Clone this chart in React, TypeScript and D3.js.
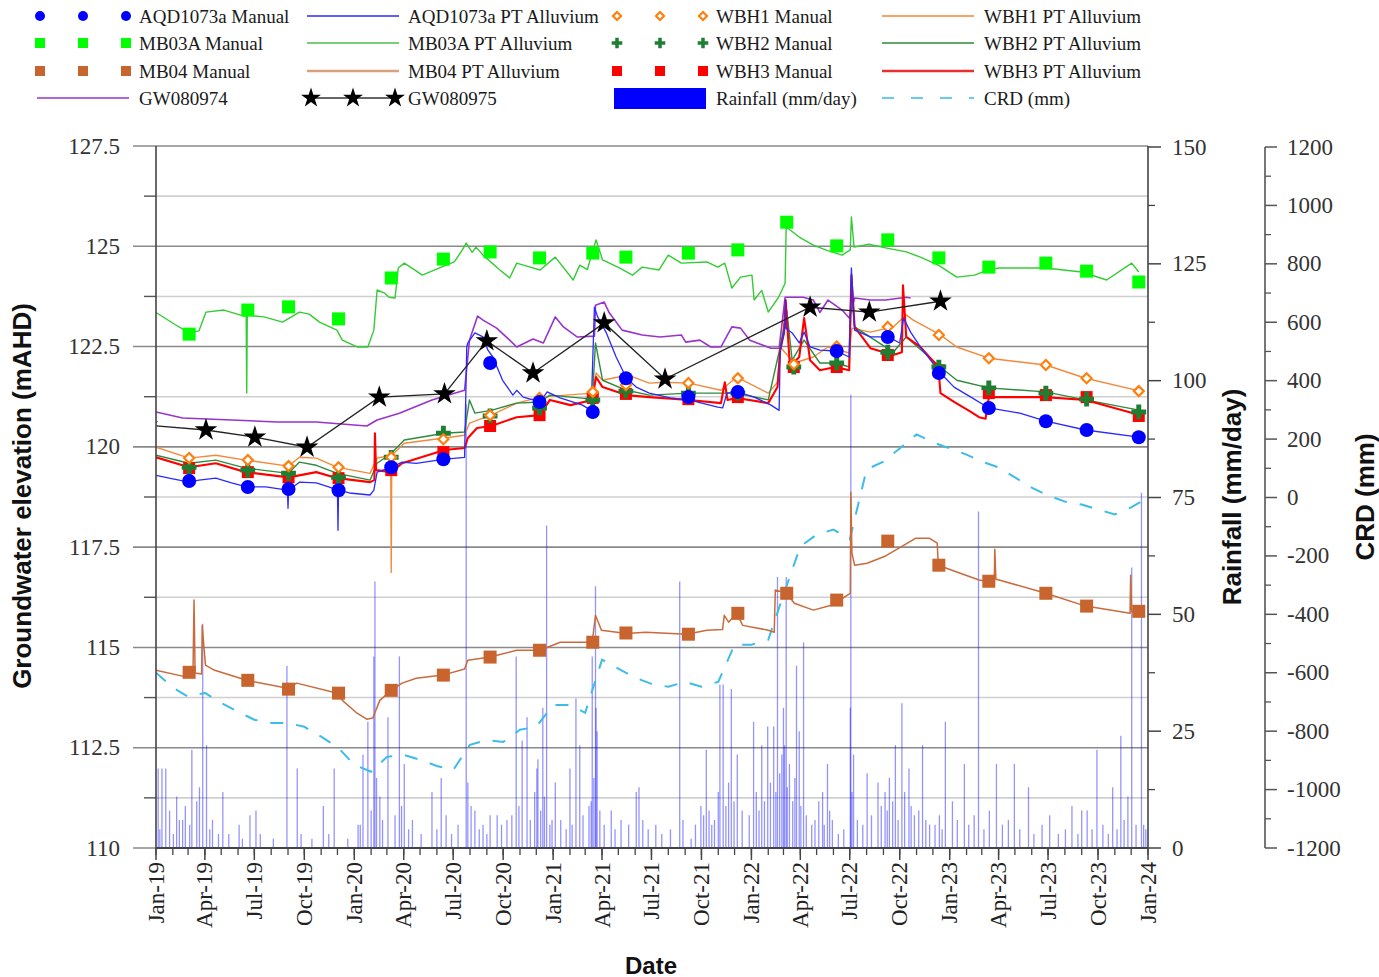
import React from "react";
import * as d3 from "d3";

type Row = [string, number];

// manual dips (mAHD)
const aqdManual: Row[] = [
  ["2019-03-03", 119.15], ["2019-06-19", 119.0], ["2019-09-02", 118.95], ["2019-12-03", 118.92],
  ["2020-03-09", 119.49], ["2020-06-13", 119.69], ["2020-09-07", 122.09], ["2020-12-07", 121.12],
  ["2021-03-15", 120.87], ["2021-05-15", 121.71], ["2021-09-07", 121.24], ["2021-12-07", 121.37],
  ["2022-06-07", 122.39], ["2022-09-09", 122.74], ["2022-12-12", 121.84], ["2023-03-14", 120.97],
  ["2023-06-27", 120.64], ["2023-09-10", 120.42], ["2023-12-15", 120.24],
];
const mb03aManual: Row[] = [
  ["2019-03-03", 122.81], ["2019-06-19", 123.41], ["2019-09-02", 123.49], ["2019-12-03", 123.19],
  ["2020-03-09", 124.21], ["2020-06-13", 124.68], ["2020-09-07", 124.86], ["2020-12-07", 124.71],
  ["2021-03-15", 124.83], ["2021-05-15", 124.73], ["2021-09-07", 124.83], ["2021-12-07", 124.91],
  ["2022-03-07", 125.6], ["2022-06-07", 125.01], ["2022-09-09", 125.16], ["2022-12-12", 124.71],
  ["2023-03-14", 124.48], ["2023-06-27", 124.58], ["2023-09-10", 124.38], ["2023-12-15", 124.11],
];
const mb04Manual: Row[] = [
  ["2019-03-03", 114.38], ["2019-06-19", 114.18], ["2019-09-02", 113.96], ["2019-12-03", 113.86],
  ["2020-03-09", 113.93], ["2020-06-13", 114.31], ["2020-09-07", 114.76], ["2020-12-07", 114.93],
  ["2021-03-15", 115.13], ["2021-05-15", 115.36], ["2021-09-07", 115.33], ["2021-12-07", 115.85],
  ["2022-03-07", 116.35], ["2022-06-07", 116.18], ["2022-09-09", 117.65], ["2022-12-12", 117.05],
  ["2023-03-14", 116.65], ["2023-06-27", 116.35], ["2023-09-10", 116.03], ["2023-12-15", 115.9],
];
const wbh1Manual: Row[] = [
  ["2019-03-03", 119.72], ["2019-06-19", 119.67], ["2019-09-02", 119.52], ["2019-12-03", 119.49],
  ["2020-03-09", 119.74], ["2020-06-13", 120.19], ["2020-09-07", 120.79], ["2020-12-07", 121.22],
  ["2021-03-15", 121.37], ["2021-05-15", 121.54], ["2021-09-07", 121.59], ["2021-12-07", 121.71],
  ["2022-03-20", 122.06], ["2022-06-07", 122.5], ["2022-09-09", 122.99], ["2022-12-12", 122.79],
  ["2023-03-14", 122.21], ["2023-06-27", 122.04], ["2023-09-10", 121.71], ["2023-12-15", 121.39],
];
const wbh2Manual: Row[] = [
  ["2019-03-03", 119.49], ["2019-06-19", 119.42], ["2019-09-02", 119.34], ["2019-12-03", 119.24],
  ["2020-03-09", 119.74], ["2020-06-13", 120.34], ["2020-09-07", 120.77], ["2020-12-07", 120.97],
  ["2021-03-15", 121.17], ["2021-05-15", 121.39], ["2021-09-07", 121.34], ["2021-12-07", 121.34],
  ["2022-03-20", 121.99], ["2022-06-07", 122.09], ["2022-09-09", 122.36], ["2022-12-12", 121.99],
  ["2023-03-14", 121.47], ["2023-06-27", 121.34], ["2023-09-10", 121.19], ["2023-12-15", 120.87],
];
const wbh3Manual: Row[] = [
  ["2019-03-03", 119.47], ["2019-06-19", 119.37], ["2019-09-02", 119.24], ["2019-12-03", 119.22],
  ["2020-03-09", 119.42], ["2020-06-13", 119.87], ["2020-09-07", 120.52], ["2020-12-07", 120.79],
  ["2021-03-15", 121.22], ["2021-05-15", 121.32], ["2021-09-07", 121.19], ["2021-12-07", 121.24],
  ["2022-03-20", 121.99], ["2022-06-07", 121.99], ["2022-09-09", 122.29], ["2022-12-12", 121.91],
  ["2023-03-14", 121.34], ["2023-06-27", 121.29], ["2023-09-10", 121.24], ["2023-12-15", 120.77],
];

// pressure transducer logs
const aqdPT: Row[] = [
  ["2019-01-01", 119.29], ["2019-02-01", 119.2], ["2019-03-03", 119.12], ["2019-03-21", 119.17], ["2019-04-21", 119.22],
  ["2019-05-20", 119.1], ["2019-06-17", 119.0], ["2019-07-22", 119.0], ["2019-08-31", 118.92], ["2019-09-01", 118.47],
  ["2019-09-02", 118.92], ["2019-09-22", 119.12], ["2019-10-23", 119.1], ["2019-11-15", 119.0], ["2019-12-01", 118.92],
  ["2019-12-02", 117.92], ["2019-12-03", 118.92], ["2019-12-23", 118.85], ["2020-01-30", 118.8],
  ["2020-02-06", 118.92], ["2020-02-12", 119.37], ["2020-03-09", 119.49], ["2020-03-29", 119.62],
  ["2020-04-24", 119.59], ["2020-06-12", 119.69], ["2020-07-22", 119.74], ["2020-07-26", 122.49],
  ["2020-07-28", 122.59], ["2020-08-10", 122.84], ["2020-08-25", 122.74], ["2020-09-03", 122.41],
  ["2020-09-12", 122.24], ["2020-09-30", 121.66], ["2020-10-19", 121.29], ["2020-10-26", 121.41],
  ["2020-11-07", 121.24], ["2020-12-08", 121.12], ["2020-12-21", 121.37], ["2021-01-14", 121.22],
  ["2021-02-24", 121.04], ["2021-03-12", 120.91], ["2021-03-18", 123.48], ["2021-03-24", 123.24],
  ["2021-04-09", 122.84], ["2021-04-27", 122.24], ["2021-05-16", 121.71], ["2021-06-03", 121.49],
  ["2021-06-27", 121.34], ["2021-08-05", 121.22], ["2021-09-08", 121.17], ["2021-10-31", 120.99],
  ["2021-11-09", 120.97], ["2021-11-17", 121.34], ["2021-12-05", 121.37], ["2022-01-06", 121.24],
  ["2022-02-06", 121.04], ["2022-02-21", 120.91], ["2022-02-23", 122.41], ["2022-03-04", 122.99],
  ["2022-03-05", 123.66], ["2022-03-06", 122.95], ["2022-03-17", 122.84], ["2022-03-30", 122.59],
  ["2022-04-08", 122.86], ["2022-04-19", 122.49], ["2022-05-07", 122.41], ["2022-06-06", 122.39],
  ["2022-06-30", 122.24], ["2022-07-04", 124.46], ["2022-07-10", 122.91], ["2022-08-08", 122.74],
  ["2022-09-10", 122.74], ["2022-10-01", 122.59], ["2022-10-08", 123.21], ["2022-10-21", 122.86],
  ["2022-11-08", 122.49], ["2022-12-15", 121.84], ["2023-01-09", 121.49], ["2023-02-09", 121.24],
  ["2023-03-14", 120.97], ["2023-05-10", 120.84], ["2023-06-27", 120.64], ["2023-09-08", 120.42],
  ["2023-12-15", 120.24],
];
const mb03aPT: Row[] = [
  ["2019-01-01", 123.35], ["2019-02-05", 123.05], ["2019-03-03", 122.84], ["2019-03-21", 122.89],
  ["2019-04-03", 123.36], ["2019-05-06", 123.41], ["2019-06-12", 123.26], ["2019-06-16", 123.28],
  ["2019-06-17", 121.34], ["2019-06-18", 123.28], ["2019-07-19", 123.24], ["2019-08-22", 123.11],
  ["2019-09-22", 123.36], ["2019-10-10", 123.31], ["2019-10-29", 123.11], ["2019-11-30", 122.91],
  ["2019-12-10", 122.66], ["2020-01-06", 122.49], ["2020-01-26", 122.49], ["2020-02-06", 122.91],
  ["2020-02-12", 123.91], ["2020-02-26", 123.83], ["2020-03-05", 123.73], ["2020-03-16", 123.71],
  ["2020-03-22", 124.46], ["2020-04-02", 124.58], ["2020-04-21", 124.41], ["2020-05-05", 124.28],
  ["2020-06-06", 124.46], ["2020-07-03", 124.61], ["2020-07-18", 124.91], ["2020-07-25", 125.08],
  ["2020-08-05", 124.85], ["2020-08-12", 124.98], ["2020-08-25", 124.78], ["2020-09-25", 124.41],
  ["2020-10-13", 124.21], ["2020-10-26", 124.58], ["2020-11-15", 124.5], ["2020-12-08", 124.41],
  ["2021-01-05", 124.73], ["2021-02-07", 124.16], ["2021-02-19", 124.53], ["2021-03-05", 124.42],
  ["2021-03-21", 125.16], ["2021-04-02", 124.66], ["2021-05-03", 124.46], ["2021-05-27", 124.28],
  ["2021-06-14", 124.48], ["2021-07-15", 124.41], ["2021-08-01", 124.78], ["2021-08-25", 124.58],
  ["2021-10-11", 124.61], ["2021-10-31", 124.48], ["2021-11-13", 124.58], ["2021-11-26", 123.96],
  ["2021-12-12", 124.23], ["2022-01-02", 124.28], ["2022-01-06", 123.66], ["2022-01-20", 123.9],
  ["2022-02-01", 123.36], ["2022-02-20", 123.73], ["2022-03-04", 124.08], ["2022-03-06", 125.48],
  ["2022-03-30", 125.23], ["2022-04-25", 125.03], ["2022-05-20", 124.9], ["2022-06-17", 124.78],
  ["2022-07-02", 124.91], ["2022-07-04", 125.73], ["2022-07-09", 124.98], ["2022-08-05", 125.05],
  ["2022-09-05", 124.96], ["2022-10-13", 124.86], ["2022-11-08", 124.73], ["2022-12-11", 124.53],
  ["2023-01-14", 124.23], ["2023-02-16", 124.28], ["2023-03-12", 124.41], ["2023-04-02", 124.46],
  ["2023-06-26", 124.46], ["2023-09-01", 124.36], ["2023-10-17", 124.16], ["2023-12-02", 124.58],
  ["2023-12-15", 124.36],
];
const mb04PT: Row[] = [
  ["2019-01-01", 114.43], ["2019-02-27", 114.26], ["2019-03-10", 114.28], ["2019-03-12", 116.18],
  ["2019-03-14", 114.36], ["2019-03-26", 114.34], ["2019-03-27", 115.55], ["2019-04-02", 114.56],
  ["2019-04-19", 114.43], ["2019-06-17", 114.18], ["2019-08-31", 113.98], ["2019-09-17", 114.11],
  ["2019-12-01", 113.86], ["2019-12-10", 113.68], ["2020-01-06", 113.36], ["2020-01-24", 113.21],
  ["2020-02-04", 113.24], ["2020-02-17", 113.68], ["2020-03-09", 113.93], ["2020-03-29", 114.11],
  ["2020-04-24", 114.23], ["2020-06-12", 114.31], ["2020-07-22", 114.46], ["2020-07-28", 114.68],
  ["2020-09-07", 114.76], ["2020-10-26", 114.93], ["2020-12-08", 114.93], ["2021-01-14", 115.13],
  ["2021-03-14", 115.13], ["2021-03-20", 115.8], ["2021-03-31", 115.43], ["2021-05-16", 115.35],
  ["2021-06-20", 115.38], ["2021-09-04", 115.33], ["2021-10-11", 115.43], ["2021-11-09", 115.45],
  ["2021-11-12", 115.8], ["2021-11-20", 115.63], ["2021-12-05", 115.85], ["2021-12-16", 115.55],
  ["2022-02-01", 115.43], ["2022-02-12", 115.38], ["2022-02-14", 116.43], ["2022-03-07", 116.35],
  ["2022-03-21", 116.1], ["2022-04-25", 115.93], ["2022-05-28", 116.05], ["2022-07-02", 116.35],
  ["2022-07-03", 118.87], ["2022-07-05", 117.35], ["2022-07-10", 117.05], ["2022-08-02", 117.1],
  ["2022-09-05", 117.28], ["2022-10-05", 117.52], ["2022-10-30", 117.72], ["2022-11-25", 117.72],
  ["2022-12-09", 117.6], ["2022-12-11", 117.05], ["2023-01-14", 116.88], ["2023-02-24", 116.68],
  ["2023-03-24", 116.62], ["2023-03-25", 117.45], ["2023-03-27", 116.7], ["2023-04-02", 116.68],
  ["2023-06-27", 116.35], ["2023-09-08", 116.03], ["2023-11-29", 115.85], ["2023-11-30", 116.8],
  ["2023-12-02", 115.9], ["2023-12-09", 115.85], ["2023-12-15", 115.9],
];
const wbh1PT: Row[] = [
  ["2019-01-01", 119.99], ["2019-03-03", 119.72], ["2019-04-21", 119.79], ["2019-06-15", 119.67],
  ["2019-09-02", 119.52], ["2019-09-22", 119.74], ["2019-10-23", 119.72], ["2019-12-01", 119.49],
  ["2020-01-30", 119.34], ["2020-02-12", 119.72], ["2020-03-08", 119.79], ["2020-03-09", 116.87],
  ["2020-03-10", 119.79], ["2020-04-02", 120.09], ["2020-06-15", 120.22], ["2020-07-22", 120.29],
  ["2020-07-31", 120.59], ["2020-09-09", 120.79], ["2020-10-26", 121.09], ["2020-12-08", 121.24],
  ["2021-03-14", 121.34], ["2021-03-21", 121.84], ["2021-04-02", 121.66], ["2021-05-19", 121.79],
  ["2021-06-27", 121.59], ["2021-07-26", 121.61], ["2021-09-08", 121.59], ["2021-11-06", 121.41],
  ["2021-12-05", 121.74], ["2022-02-01", 121.34], ["2022-02-18", 121.61], ["2022-02-23", 122.49],
  ["2022-03-21", 122.09], ["2022-04-25", 122.24], ["2022-05-22", 122.49], ["2022-06-30", 122.34],
  ["2022-07-05", 122.96], ["2022-08-08", 122.86], ["2022-09-19", 122.99], ["2022-10-13", 123.29],
  ["2022-10-26", 123.16], ["2022-12-15", 122.79], ["2023-01-14", 122.49], ["2023-03-14", 122.21],
  ["2023-06-27", 122.04], ["2023-09-08", 121.71], ["2023-12-18", 121.39],
];
const wbh2PT: Row[] = [
  ["2019-01-01", 119.79], ["2019-03-03", 119.59], ["2019-04-21", 119.67], ["2019-06-15", 119.47],
  ["2019-09-02", 119.34], ["2019-09-22", 119.62], ["2019-10-23", 119.54], ["2019-12-01", 119.34],
  ["2020-01-30", 119.17], ["2020-02-12", 119.59], ["2020-03-09", 119.84], ["2020-04-02", 120.17],
  ["2020-06-15", 120.34], ["2020-07-22", 120.37], ["2020-07-31", 121.17], ["2020-08-10", 120.84],
  ["2020-09-09", 120.91], ["2020-10-26", 121.09], ["2020-12-08", 121.12], ["2020-12-26", 121.29],
  ["2021-03-14", 121.19], ["2021-03-20", 122.59], ["2021-04-02", 121.66], ["2021-05-16", 121.41],
  ["2021-06-27", 121.29], ["2021-09-08", 121.34], ["2021-12-05", 121.34], ["2022-02-01", 121.17],
  ["2022-02-23", 122.49], ["2022-03-07", 123.41], ["2022-03-17", 122.16], ["2022-04-08", 122.66],
  ["2022-05-07", 122.09], ["2022-06-06", 122.09], ["2022-06-30", 121.99], ["2022-07-04", 123.91],
  ["2022-07-10", 122.99], ["2022-09-19", 122.36], ["2022-10-13", 122.74], ["2022-12-15", 121.99],
  ["2023-01-14", 121.66], ["2023-03-14", 121.47], ["2023-06-26", 121.37], ["2023-09-08", 121.17],
  ["2023-12-18", 120.91],
];
const wbh3PT: Row[] = [
  ["2019-01-01", 119.74], ["2019-03-03", 119.49], ["2019-04-21", 119.59], ["2019-06-15", 119.37],
  ["2019-09-02", 119.24], ["2019-10-23", 119.37], ["2019-12-01", 119.22], ["2020-01-30", 119.12],
  ["2020-02-07", 119.17], ["2020-02-08", 120.34], ["2020-02-10", 119.42], ["2020-03-09", 119.37],
  ["2020-03-29", 119.59], ["2020-06-15", 119.92], ["2020-07-22", 119.97], ["2020-07-28", 120.22],
  ["2020-08-14", 120.47], ["2020-09-09", 120.52], ["2020-10-26", 120.74], ["2020-12-08", 120.79],
  ["2020-12-26", 121.17], ["2021-02-02", 121.04], ["2021-03-14", 121.17], ["2021-03-21", 121.74],
  ["2021-04-02", 121.49], ["2021-05-16", 121.29], ["2021-06-27", 121.24], ["2021-09-08", 121.17],
  ["2021-11-06", 121.09], ["2021-11-13", 121.61], ["2021-11-18", 121.17], ["2021-12-05", 121.22],
  ["2022-02-01", 121.09], ["2022-02-18", 121.49], ["2022-02-23", 122.41], ["2022-03-02", 122.84],
  ["2022-03-05", 123.66], ["2022-03-13", 121.99], ["2022-03-30", 122.24], ["2022-04-08", 123.21],
  ["2022-04-19", 122.16], ["2022-05-07", 121.91], ["2022-06-05", 121.99], ["2022-06-30", 121.91],
  ["2022-07-04", 124.28], ["2022-07-10", 122.99], ["2022-08-08", 122.46], ["2022-09-19", 122.29],
  ["2022-10-05", 122.36], ["2022-10-07", 124.03], ["2022-10-13", 122.74], ["2022-11-08", 122.49],
  ["2022-12-11", 121.99], ["2022-12-15", 121.34], ["2023-01-09", 121.12], ["2023-02-09", 120.87],
  ["2023-02-24", 120.74], ["2023-03-08", 120.7], ["2023-03-14", 121.24], ["2023-06-26", 121.24],
  ["2023-09-08", 121.17], ["2023-12-18", 120.79],
];
const gw080974: Row[] = [
  ["2019-01-01", 120.87], ["2019-02-19", 120.72], ["2019-05-20", 120.67], ["2019-08-12", 120.62],
  ["2019-10-23", 120.62], ["2020-01-24", 120.52], ["2020-02-12", 120.67], ["2020-03-24", 120.84],
  ["2020-05-23", 121.17], ["2020-07-22", 121.41], ["2020-07-31", 122.66], ["2020-08-15", 123.26],
  ["2020-08-25", 123.16], ["2020-09-19", 122.96], ["2020-10-13", 122.66], ["2020-10-26", 122.49],
  ["2020-11-25", 122.69], ["2020-12-14", 122.59], ["2021-01-05", 123.24], ["2021-01-20", 122.99],
  ["2021-02-14", 122.74], ["2021-03-18", 122.76], ["2021-03-20", 123.53], ["2021-04-05", 123.61],
  ["2021-04-14", 123.35], ["2021-05-08", 122.91], ["2021-06-14", 122.79], ["2021-07-17", 122.74],
  ["2021-08-25", 122.79], ["2021-09-02", 122.61], ["2021-09-28", 122.66], ["2021-10-18", 122.49],
  ["2021-11-06", 122.49], ["2021-11-26", 122.99], ["2021-12-12", 122.96], ["2021-12-29", 122.66],
  ["2022-02-06", 122.46], ["2022-02-21", 122.46], ["2022-03-04", 123.73], ["2022-04-06", 123.73],
  ["2022-04-25", 123.66], ["2022-05-07", 123.35], ["2022-05-22", 123.66], ["2022-06-17", 123.41],
  ["2022-06-30", 123.21], ["2022-07-10", 123.71], ["2022-08-08", 123.66], ["2022-09-05", 123.66],
  ["2022-10-13", 123.73], ["2022-10-21", 123.71],
];
const gw080975: Row[] = [
  ["2018-12-15", 120.54], ["2019-04-03", 120.42], ["2019-07-02", 120.24], ["2019-10-06", 119.99],
  ["2020-02-16", 121.24], ["2020-06-15", 121.32], ["2020-09-01", 122.64], ["2020-11-25", 121.84],
  ["2021-04-05", 123.09], ["2021-07-26", 121.69], ["2022-04-19", 123.48], ["2022-08-06", 123.36],
  ["2022-12-15", 123.63],
];

// daily rainfall (mm/day), rain days only
const rainfall: Row[] = [
  ["2019-01-05", 17], ["2019-01-08", 4], ["2019-01-12", 17], ["2019-01-19", 17], ["2019-01-26", 8],
  ["2019-02-02", 3], ["2019-02-08", 11], ["2019-02-13", 6], ["2019-02-19", 6], ["2019-02-24", 9],
  ["2019-03-04", 5], ["2019-03-08", 21], ["2019-03-17", 10], ["2019-03-22", 13], ["2019-03-28", 48],
  ["2019-04-04", 22], ["2019-04-10", 4], ["2019-04-15", 6], ["2019-04-26", 3], ["2019-05-04", 12],
  ["2019-05-15", 3], ["2019-06-03", 5], ["2019-06-09", 2], ["2019-06-23", 7], ["2019-07-04", 8],
  ["2019-07-12", 3], ["2019-08-05", 2], ["2019-08-30", 39], ["2019-09-18", 17], ["2019-09-25", 3],
  ["2019-10-15", 2], ["2019-11-05", 9], ["2019-11-15", 3], ["2019-11-25", 17], ["2019-12-20", 2],
  ["2020-01-08", 5], ["2020-01-12", 5], ["2020-01-17", 20], ["2020-01-26", 27], ["2020-02-01", 8],
  ["2020-02-06", 41], ["2020-02-08", 57], ["2020-02-11", 15], ["2020-02-17", 11], ["2020-02-22", 6],
  ["2020-03-03", 28], ["2020-03-16", 7], ["2020-03-24", 41], ["2020-03-28", 9], ["2020-04-02", 18],
  ["2020-04-10", 4], ["2020-04-17", 6], ["2020-05-03", 3], ["2020-05-23", 12], ["2020-06-01", 4],
  ["2020-06-09", 15], ["2020-06-18", 7], ["2020-06-28", 3], ["2020-07-10", 5], ["2020-07-25", 95],
  ["2020-07-28", 14], ["2020-08-03", 9], ["2020-08-10", 8], ["2020-08-18", 4], ["2020-08-25", 5],
  ["2020-09-01", 3], ["2020-09-07", 7], ["2020-09-20", 7], ["2020-09-28", 5], ["2020-10-08", 6],
  ["2020-10-17", 7], ["2020-10-25", 41], ["2020-10-30", 9], ["2020-11-05", 23], ["2020-11-14", 28],
  ["2020-11-20", 6], ["2020-11-28", 12], ["2020-12-02", 17], ["2020-12-04", 19], ["2020-12-09", 8],
  ["2020-12-13", 30], ["2020-12-16", 11], ["2020-12-20", 69], ["2020-12-26", 5], ["2020-12-30", 6],
  ["2021-01-05", 14], ["2021-01-15", 6], ["2021-01-25", 4], ["2021-02-01", 17], ["2021-02-05", 5],
  ["2021-02-12", 32], ["2021-02-19", 22], ["2021-02-25", 7], ["2021-03-08", 9], ["2021-03-12", 10],
  ["2021-03-14", 41], ["2021-03-17", 15], ["2021-03-20", 56], ["2021-03-21", 30], ["2021-03-23", 25],
  ["2021-03-28", 8], ["2021-04-05", 5], ["2021-04-18", 8], ["2021-04-25", 4], ["2021-05-06", 6],
  ["2021-05-20", 5], ["2021-06-03", 12], ["2021-06-08", 13], ["2021-06-15", 6], ["2021-06-25", 4],
  ["2021-07-09", 5], ["2021-07-20", 3], ["2021-08-05", 4], ["2021-08-22", 57], ["2021-08-28", 6],
  ["2021-09-12", 2], ["2021-09-20", 5], ["2021-09-30", 9], ["2021-10-05", 7], ["2021-10-10", 21],
  ["2021-10-15", 8], ["2021-10-20", 5], ["2021-10-25", 6], ["2021-11-01", 12], ["2021-11-04", 35],
  ["2021-11-10", 35], ["2021-11-15", 9], ["2021-11-20", 14], ["2021-11-25", 34], ["2021-11-30", 10],
  ["2021-12-06", 20], ["2021-12-15", 8], ["2021-12-28", 7], ["2022-01-05", 27], ["2022-01-10", 12],
  ["2022-01-15", 8], ["2022-01-20", 22], ["2022-01-25", 10], ["2022-01-31", 26], ["2022-02-05", 14],
  ["2022-02-11", 26], ["2022-02-15", 12], ["2022-02-18", 58], ["2022-02-22", 16], ["2022-02-26", 20],
  ["2022-03-01", 30], ["2022-03-03", 22], ["2022-03-06", 58], ["2022-03-08", 13], ["2022-03-12", 18],
  ["2022-03-18", 10], ["2022-03-22", 15], ["2022-03-25", 39], ["2022-03-30", 25], ["2022-04-02", 9],
  ["2022-04-07", 44], ["2022-04-12", 7], ["2022-04-22", 5], ["2022-04-28", 6], ["2022-05-05", 10],
  ["2022-05-12", 12], ["2022-05-15", 5], ["2022-05-21", 18], ["2022-05-25", 8], ["2022-05-30", 6],
  ["2022-06-10", 3], ["2022-06-20", 4], ["2022-07-02", 30], ["2022-07-03", 97], ["2022-07-05", 12],
  ["2022-07-08", 20], ["2022-07-15", 6], ["2022-07-25", 5], ["2022-08-02", 16], ["2022-08-10", 7],
  ["2022-08-22", 14], ["2022-08-28", 9], ["2022-09-04", 12], ["2022-09-08", 8], ["2022-09-12", 15],
  ["2022-09-18", 10], ["2022-09-23", 22], ["2022-09-28", 6], ["2022-10-05", 31], ["2022-10-10", 12],
  ["2022-10-18", 17], ["2022-10-22", 9], ["2022-10-28", 7], ["2022-11-05", 8], ["2022-11-12", 22],
  ["2022-11-18", 6], ["2022-11-25", 5], ["2022-12-05", 5], ["2022-12-13", 7], ["2022-12-18", 4],
  ["2022-12-24", 27], ["2023-01-06", 10], ["2023-01-15", 6], ["2023-01-28", 18], ["2023-02-05", 5],
  ["2023-02-15", 7], ["2023-02-23", 72], ["2023-03-05", 4], ["2023-03-15", 8], ["2023-03-28", 18],
  ["2023-04-08", 5], ["2023-04-19", 6], ["2023-04-30", 18], ["2023-05-10", 4], ["2023-05-26", 13],
  ["2023-06-05", 3], ["2023-06-20", 5], ["2023-07-04", 7], ["2023-07-20", 3], ["2023-08-02", 4],
  ["2023-08-14", 9], ["2023-08-25", 3], ["2023-09-01", 8], ["2023-09-11", 8], ["2023-09-20", 4],
  ["2023-09-29", 21], ["2023-10-10", 5], ["2023-10-20", 3], ["2023-10-28", 13], ["2023-11-05", 4],
  ["2023-11-12", 24], ["2023-11-18", 6], ["2023-11-25", 11], ["2023-12-02", 60], ["2023-12-10", 5],
  ["2023-12-20", 76], ["2023-12-24", 5], ["2023-12-28", 4],
];

// cumulative rainfall departure, one value per month from Jan-19 to Jan-24
const crdStart = "2019-01-01";
const crdMonthly = [
  -600, -651, -682, -669, -703, -734, -761, -772, -772, -785, -819, -854,
  -915, -939, -888, -881, -898, -919, -933, -847, -830, -837, -795, -785,
  -710, -710, -737, -555, -586, -617, -638, -648, -631, -648, -631, -504,
  -504, -487, -333, -168, -127, -110, -144, 96, 123, 168, 216, 189,
  168, 147, 123, 103, 69, 34, 7, -14, -24, -41, -58, -34, 0,
];

const gwTicks = [110, 112.5, 115, 117.5, 120, 122.5, 125, 127.5];
const rainTicks = [0, 25, 50, 75, 100, 125, 150];
const crdTicks = [-1200, -1000, -800, -600, -400, -200, 0, 200, 400, 600, 800, 1000, 1200];

const W = 1379;
const H = 977;
const L = 156;
const R = 1148;
const T = 146;
const B = 848;
const CRD_X = 1265;

const parse = d3.timeParse("%Y-%m-%d");
const dt = (s: string) => parse(s) as Date;
const x = d3.scaleTime().domain([dt("2019-01-01"), dt("2024-01-01")]).range([L, R]);
const y = d3.scaleLinear().domain([110, 127.5]).range([B, T]);
const yRain = d3.scaleLinear().domain([0, 150]).range([B, T + 1]);
const yCrd = d3.scaleLinear().domain([-1200, 1200]).range([B, T + 1]);

const gwLine = d3.line<Row>().x((d) => x(dt(d[0]))).y((d) => y(d[1]));

const SERIF = "'Liberation Serif', 'Times New Roman', serif";
const SANS = "'Liberation Sans', Arial, sans-serif";

const C = {
  aqd: "#0000ff",
  aqdLine: "#2a2aff",
  mb03a: "#00ff00",
  mb03aLine: "#33cc33",
  mb04: "#c8642d",
  mb04Line: "#c96b3c",
  wbh1: "#ff7f0e",
  wbh1Line: "#f28a3c",
  wbh2: "#1e7f32",
  wbh2Line: "#2e8b3e",
  wbh3: "#ff0000",
  purple: "#9933cc",
  crd: "#3cbce8",
};

const star = (s: number) => d3.symbol(d3.symbolStar, s)() as string;
const cross = (s: number) => d3.symbol(d3.symbolCross, s)() as string;

type MarkerKind = "circle" | "square" | "diamond" | "plus" | "star";

function Marker({ kind, cx, cy, color, size }: { kind: MarkerKind; cx: number; cy: number; color: string; size: number }) {
  if (kind === "circle") return <circle cx={cx} cy={cy} r={size / 2} fill={color} />;
  if (kind === "square")
    return <rect x={cx - size / 2} y={cy - size / 2} width={size} height={size} fill={color} />;
  if (kind === "diamond") {
    const h = size / 2;
    return (
      <path
        d={`M${cx},${cy - h}L${cx + h},${cy}L${cx},${cy + h}L${cx - h},${cy}Z`}
        fill="#fff"
        stroke={color}
        strokeWidth={2.2}
      />
    );
  }
  if (kind === "plus") return <path d={cross(size * size * 0.62)} transform={`translate(${cx},${cy})`} fill={color} />;
  return <path d={star(size * size * 0.55)} transform={`translate(${cx},${cy})`} fill="#000" />;
}

const lineSeries = [
  { data: mb04PT, color: C.mb04Line, w: 1.5 },
  { data: mb03aPT, color: C.mb03aLine, w: 1.4 },
  { data: gw080974, color: C.purple, w: 1.6 },
  { data: wbh1PT, color: C.wbh1Line, w: 1.4 },
  { data: wbh2PT, color: C.wbh2Line, w: 1.4 },
  { data: wbh3PT, color: C.wbh3, w: 2.1 },
  { data: aqdPT, color: C.aqdLine, w: 1.3 },
];

const markerSeries: { data: Row[]; kind: MarkerKind; color: string; size: number }[] = [
  { data: mb04Manual, kind: "square", color: C.mb04, size: 13 },
  { data: mb03aManual, kind: "square", color: C.mb03a, size: 13 },
  { data: wbh3Manual, kind: "square", color: C.wbh3, size: 12 },
  { data: wbh2Manual, kind: "plus", color: C.wbh2, size: 14 },
  { data: wbh1Manual, kind: "diamond", color: C.wbh1, size: 10 },
  { data: aqdManual, kind: "circle", color: C.aqd, size: 14 },
];

function Legend() {
  const rows = [16, 43, 71, 98];
  const lineAt = (x0: number, yy: number, color: string, w = 1.6, dash?: string) => (
    <line x1={x0} x2={x0 + 92} y1={yy} y2={yy} stroke={color} strokeWidth={w} strokeDasharray={dash} />
  );
  const three = (x0: number, yy: number, kind: MarkerKind, color: string, size: number) => (
    <g>
      {[0, 43, 86].map((dx) => (
        <Marker key={dx} kind={kind} cx={x0 + dx} cy={yy} color={color} size={size} />
      ))}
    </g>
  );
  const label = (x0: number, yy: number, t: string) => (
    <text x={x0} y={yy} dominantBaseline="central" fontFamily={SERIF} fontSize={19} fill="#1a1a1a">
      {t}
    </text>
  );
  return (
    <g>
      {three(40, rows[0], "circle", C.aqd, 10)}
      {label(139, rows[0], "AQD1073a Manual")}
      {lineAt(307, rows[0], C.aqdLine)}
      {label(408, rows[0], "AQD1073a PT Alluvium")}
      {three(617, rows[0], "diamond", C.wbh1, 8)}
      {label(716, rows[0], "WBH1 Manual")}
      {lineAt(882, rows[0], "#f5a36a", 2.2)}
      {label(984, rows[0], "WBH1 PT Alluvium")}

      {three(40, rows[1], "square", C.mb03a, 10)}
      {label(139, rows[1], "MB03A Manual")}
      {lineAt(307, rows[1], "#4cbf4c")}
      {label(408, rows[1], "MB03A PT Alluvium")}
      {three(617, rows[1], "plus", C.wbh2, 10)}
      {label(716, rows[1], "WBH2 Manual")}
      {lineAt(882, rows[1], C.wbh2Line)}
      {label(984, rows[1], "WBH2 PT Alluvium")}

      {three(40, rows[2], "square", C.mb04, 10)}
      {label(139, rows[2], "MB04 Manual")}
      {lineAt(307, rows[2], "#d9a07e", 2.4)}
      {label(408, rows[2], "MB04 PT Alluvium")}
      {three(617, rows[2], "square", C.wbh3, 10)}
      {label(716, rows[2], "WBH3 Manual")}
      {lineAt(882, rows[2], "#e83030", 2.4)}
      {label(984, rows[2], "WBH3 PT Alluvium")}

      {lineAt(37, rows[3], "#b366d9", 2.2)}
      {label(139, rows[3], "GW080974")}
      <line x1={311} x2={395} y1={rows[3]} y2={rows[3]} stroke="#333" strokeWidth={1.4} />
      {[311, 353, 395].map((cx) => (
        <Marker key={cx} kind="star" cx={cx} cy={rows[3]} color="#000" size={15} />
      ))}
      {label(408, rows[3], "GW080975")}
      <rect x={614} y={88} width={92} height={21} fill="#0000ff" />
      {label(716, rows[3], "Rainfall (mm/day)")}
      {lineAt(882, rows[3], "#66ccee", 2, "12 17")}
      {label(984, rows[3], "CRD (mm)")}
    </g>
  );
}

export default function App() {
  const minorGw = d3.range(111.25, 127.5, 2.5);
  const minorRain = d3.range(12.5, 150, 25);
  const minorCrd = d3.range(-1100, 1200, 200);
  const quarterTicks = x.ticks(d3.timeMonth.every(3) as d3.TimeInterval);
  const monthTicks = x.ticks(d3.timeMonth.every(1) as d3.TimeInterval);
  const fmt = d3.timeFormat("%b-%y");
  const crdPts: [Date, number][] = crdMonthly.map((v, i) => [d3.timeMonth.offset(dt(crdStart), i), v]);
  const crdPath = d3.line<[Date, number]>().x((d) => x(d[0])).y((d) => yCrd(d[1]))(crdPts) as string;
  const starPath = gwLine(gw080975) as string;

  return (
    <div style={{ position: "absolute", left: 0, top: 0 }}>
      <svg width={W} height={H} viewBox={`0 0 ${W} ${H}`} style={{ display: "block", background: "#fff" }}>
        <defs>
          <clipPath id="plotClip">
            <rect x={L} y={T - 2} width={R - L} height={B - T + 4} />
          </clipPath>
        </defs>
        <Legend />

        {/* gridlines */}
        {minorGw.map((v) => (
          <line key={"mg" + v} x1={L} x2={R} y1={y(v)} y2={y(v)} stroke="#cfcfcf" strokeWidth={1.6} />
        ))}
        {gwTicks.map((v) => (
          <line key={"g" + v} x1={L - 23} x2={R} y1={y(v)} y2={y(v)} stroke="#8a8a8a" strokeWidth={1.6} />
        ))}
        {minorGw.map((v) => (
          <line key={"mt" + v} x1={L - 12} x2={L} y1={y(v)} y2={y(v)} stroke="#555" strokeWidth={1.4} />
        ))}

        <g clipPath="url(#plotClip)">
          {/* rainfall */}
          {rainfall.map((d, i) => (
            <line
              key={"r" + i}
              x1={x(dt(d[0]))}
              x2={x(dt(d[0]))}
              y1={yRain(0)}
              y2={yRain(d[1])}
              stroke="#0000ff"
              strokeOpacity={0.42}
              strokeWidth={1.3}
            />
          ))}
          <path d={crdPath} fill="none" stroke={C.crd} strokeWidth={2} strokeDasharray="13 13" />
          {lineSeries.map((s, i) => (
            <path key={"l" + i} d={gwLine(s.data) as string} fill="none" stroke={s.color} strokeWidth={s.w} strokeLinejoin="round" />
          ))}
          <path d={starPath} fill="none" stroke="#222" strokeWidth={1.3} />
          {markerSeries.map((s, i) => (
            <g key={"m" + i}>
              {s.data.map((d, j) => (
                <Marker key={j} kind={s.kind} cx={x(dt(d[0]))} cy={y(d[1])} color={s.color} size={s.size} />
              ))}
            </g>
          ))}
          {gw080975.map((d, j) => (
            <Marker key={"s" + j} kind="star" cx={x(dt(d[0]))} cy={y(d[1])} color="#000" size={17} />
          ))}
        </g>

        {/* left axis */}
        <line x1={L} x2={L} y1={T} y2={B} stroke="#444" strokeWidth={1.6} />
        {gwTicks.map((v) => (
          <text key={"gl" + v} x={120} y={y(v)} textAnchor="end" dominantBaseline="central" fontFamily={SERIF} fontSize={23} fill="#333">
            {String(v)}
          </text>
        ))}

        {/* bottom axis */}
        <line x1={L} x2={R} y1={B} y2={B} stroke="#444" strokeWidth={1.8} />
        {monthTicks.map((t, i) => (
          <line key={"xm" + i} x1={x(t)} x2={x(t)} y1={B} y2={B + 7} stroke="#444" strokeWidth={1.3} />
        ))}
        {quarterTicks.map((t, i) => (
          <g key={"xq" + i}>
            <line x1={x(t)} x2={x(t)} y1={B} y2={B + 12} stroke="#444" strokeWidth={1.5} />
            <text
              transform={`translate(${x(t)},${B + 14}) rotate(-90)`}
              textAnchor="end"
              dominantBaseline="central"
              fontFamily={SERIF}
              fontSize={23}
              fill="#222"
            >
              {fmt(t)}
            </text>
          </g>
        ))}

        {/* rainfall axis */}
        <line x1={R} x2={R} y1={T} y2={B} stroke="#444" strokeWidth={1.6} />
        {rainTicks.map((v) => (
          <g key={"ra" + v}>
            <line x1={R} x2={R + 13} y1={yRain(v)} y2={yRain(v)} stroke="#444" strokeWidth={1.5} />
            <text x={1172} y={yRain(v)} dominantBaseline="central" fontFamily={SERIF} fontSize={23} fill="#333">
              {v}
            </text>
          </g>
        ))}
        {minorRain.map((v) => (
          <line key={"rm" + v} x1={R} x2={R + 7} y1={yRain(v)} y2={yRain(v)} stroke="#444" strokeWidth={1.3} />
        ))}

        {/* CRD axis */}
        <line x1={CRD_X} x2={CRD_X} y1={yCrd(1200)} y2={yCrd(-1200)} stroke="#555" strokeWidth={1.6} />
        {crdTicks.map((v) => (
          <g key={"ca" + v}>
            <line x1={CRD_X} x2={CRD_X + 12} y1={yCrd(v)} y2={yCrd(v)} stroke="#555" strokeWidth={1.5} />
            <text x={1287} y={yCrd(v)} dominantBaseline="central" fontFamily={SERIF} fontSize={23} fill="#333">
              {v}
            </text>
          </g>
        ))}
        {minorCrd.map((v) => (
          <line key={"cm" + v} x1={CRD_X} x2={CRD_X + 6} y1={yCrd(v)} y2={yCrd(v)} stroke="#555" strokeWidth={1.3} />
        ))}

        {/* axis titles */}
        <text transform="translate(22,496) rotate(-90)" textAnchor="middle" dominantBaseline="central" fontFamily={SANS} fontWeight="bold" fontSize={26} fill="#111">
          Groundwater elevation (mAHD)
        </text>
        <text transform="translate(1232,497) rotate(-90)" textAnchor="middle" dominantBaseline="central" fontFamily={SANS} fontWeight="bold" fontSize={26} fill="#111">
          Rainfall (mm/day)
        </text>
        <text transform="translate(1365,497) rotate(-90)" textAnchor="middle" dominantBaseline="central" fontFamily={SANS} fontWeight="bold" fontSize={26} fill="#111">
          CRD (mm)
        </text>
        <text x={651} y={965} textAnchor="middle" dominantBaseline="central" fontFamily={SANS} fontWeight="bold" fontSize={24} fill="#111">
          Date
        </text>
      </svg>
    </div>
  );
}
